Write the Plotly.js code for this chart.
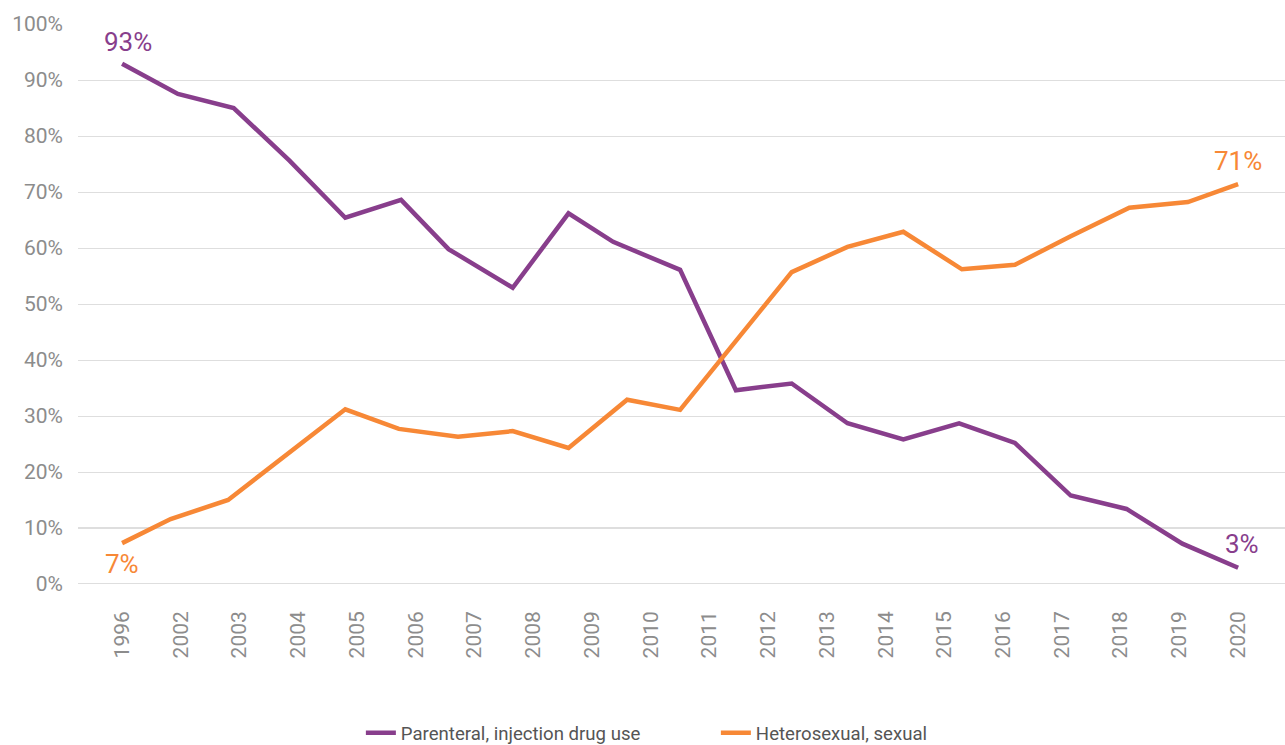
<!DOCTYPE html>
<html>
<head>
<meta charset="utf-8">
<script src="https://cdn.plot.ly/plotly-3.0.1.min.js"></script>
<style>html,body{margin:0;padding:0;background:#fff;}#chart{width:1285px;height:745px;}</style>
</head>
<body>
<div id="chart"></div>
<script>
// Tick labels (years) - 20 labels evenly spread over the axis
const yearLabels = ['1996','2002','2003','2004','2005','2006','2007','2008','2009','2010',
  '2011','2012','2013','2014','2015','2016','2017','2018','2019','2020'];

// Parenteral, injection drug use (position along axis in point-index units, % value)
const parenteralName = 'Parenteral, injection drug use';
const parenteralX = [0,1,2,3,4,5,5.85,7,8,8.8,10,11,12,13,14,15,16,17,18,19,20];
const parenteralY = [92.9,87.5,85.0,75.6,65.4,68.6,59.8,52.9,66.2,61.1,56.1,34.6,35.8,28.7,25.8,28.7,25.2,15.8,13.4,7.2,2.9];

// Heterosexual, sexual
const heteroName = 'Heterosexual, sexual';
const heteroX = [0,0.87,1.9,4,4.96,6.02,7,8,9.05,10,12,13,14,15.05,16,17,18.05,19.1,20];
const heteroY = [7.3,11.6,15.0,31.2,27.7,26.3,27.3,24.3,32.9,31.1,55.7,60.2,62.9,56.2,57.0,62.1,67.2,68.2,71.4];

const purple = '#883e8c';
const orange = '#f78836';
const nPts = parenteralX.length - 1;
const tickPos = yearLabels.map((_, i) => i * nPts / (yearLabels.length - 1));

const traces = [
  {x: parenteralX, y: parenteralY, name: parenteralName, type: 'scatter', mode: 'lines',
   line: {color: purple, width: 4.5}, cliponaxis: false, hoverinfo: 'skip'},
  {x: heteroX, y: heteroY, name: heteroName, type: 'scatter', mode: 'lines',
   line: {color: orange, width: 4.5}, cliponaxis: false, hoverinfo: 'skip'}
];

function endLabel(xs, ys, color, idx, xshift, yshift) {
  return {x: xs[idx], y: ys[idx], xref: 'x', yref: 'y', text: Math.round(ys[idx]) + '%',
    showarrow: false, xshift: xshift, yshift: yshift,
    font: {family: 'Roboto, sans-serif', size: 26, color: color}};
}

const layout = {
  width: 1285, height: 745,
  margin: {l: 78, r: 0, t: 24, b: 161},
  paper_bgcolor: '#ffffff', plot_bgcolor: '#ffffff',
  font: {family: 'Roboto, sans-serif'},
  xaxis: {range: [-0.79, 20.84], tickmode: 'array', tickvals: tickPos, ticktext: yearLabels,
    tickangle: -90, showgrid: false, zeroline: false, showline: false, ticks: '', automargin: false,
    ticklabelstandoff: 22, tickfont: {family: 'Roboto, sans-serif', size: 21, color: '#8c8c8c'}},
  yaxis: {range: [0, 100], dtick: 10, ticksuffix: '%', gridcolor: '#dedede', gridwidth: 1,
    zeroline: false, showline: false, ticks: '', ticklabelstandoff: 14, automargin: false,
    tickfont: {family: 'Roboto, sans-serif', size: 21, color: '#8c8c8c'}},
  shapes: [0, 10].map(v => ({type: 'line', xref: 'paper', x0: 0, x1: 1, yref: 'y', y0: v, y1: v,
    line: {color: '#bcbcbc', width: 1}, layer: 'below'})),
  showlegend: true,
  legend: {orientation: 'h', x: 0.5571, xanchor: 'center', xref: 'container', yref: 'container',
    y: 0.016, yanchor: 'middle',
    font: {family: 'Roboto, sans-serif', size: 18.6, color: '#555555'},
    entrywidth: 310, entrywidthmode: 'pixels'},
  annotations: [
    endLabel(parenteralX, parenteralY, purple, 0, 6, 22),
    endLabel(parenteralX, parenteralY, purple, parenteralX.length - 1, 4, 24),
    endLabel(heteroX, heteroY, orange, 0, 0, -21),
    endLabel(heteroX, heteroY, orange, heteroX.length - 1, 0, 23)
  ]
};

Plotly.newPlot('chart', traces, layout, {displayModeBar: false, staticPlot: true});
</script>
</body>
</html>
